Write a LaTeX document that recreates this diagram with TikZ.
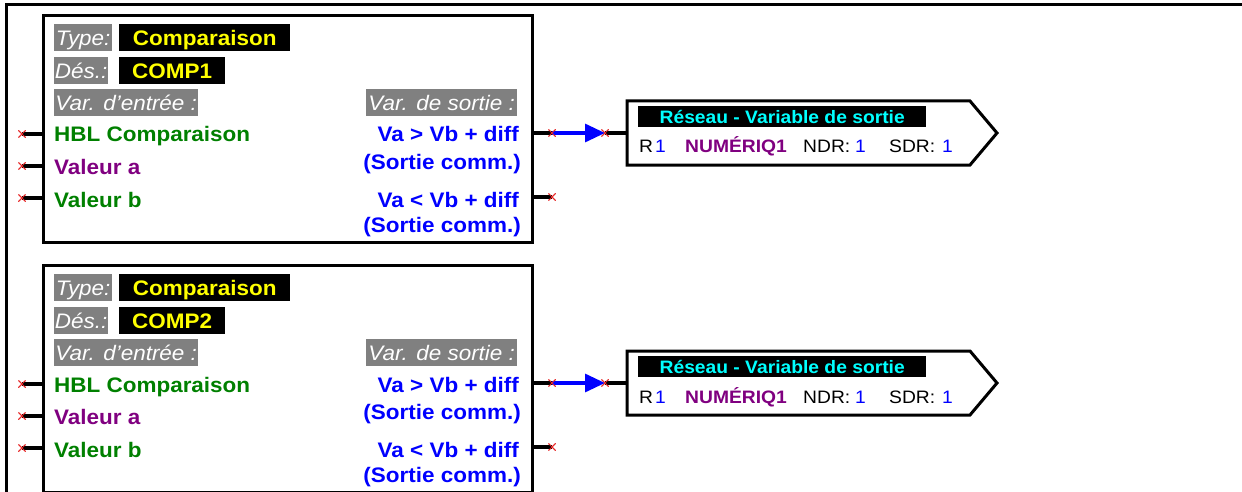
\documentclass[tikz,border=0pt]{standalone}
\usepackage{fontspec}
\setmainfont{Liberation Sans}[FakeStretch=1.07]
\usetikzlibrary{shapes.misc,arrows.meta}
\definecolor{dgreen}{RGB}{0,128,0}
\definecolor{dpurple}{RGB}{128,0,128}
\definecolor{lgray}{RGB}{128,128,128}
\definecolor{xred}{RGB}{230,40,40}
\definecolor{pcyan}{RGB}{0,255,255}
\definecolor{pyellow}{RGB}{255,255,0}
\definecolor{pblue}{RGB}{0,0,255}
\tikzset{
 frame/.style={line width=3pt},
 blk/.style={draw, line width=3pt, inner sep=0pt, minimum width=489pt, minimum height=227pt, anchor=north west},
 graylbl/.style={fill=lgray, text=white, font=\fontsize{21}{25}\selectfont\itshape, inner sep=0pt, text height=21pt, text depth=6pt, anchor=north west},
 blklbl/.style={fill=black, text=pyellow, font=\fontsize{21}{25}\selectfont\bfseries, inner sep=0pt, text height=21pt, text depth=6pt, anchor=north west},
 intxt/.style={font=\fontsize{21}{25}\selectfont\bfseries, inner sep=0pt, anchor=base west},
 outtxt/.style={font=\fontsize{21}{25}\selectfont\bfseries, text=pblue, inner sep=0pt, anchor=base east},
 stub/.style={line width=3.2pt},
 xm/.style={cross out, draw=xred, line width=1pt, minimum size=6pt, inner sep=0pt},
 link/.style={draw=pblue, line width=3.2pt, -{Triangle[length=20pt,width=18pt]}},
 netbox/.style={line width=3pt, line join=miter},
 netlbl/.style={fill=black, text=pcyan, font=\fontsize{18}{21}\selectfont\bfseries, inner sep=0pt, text height=17pt, text depth=4pt, minimum width=288pt, anchor=north west},
 nettxt/.style={font=\fontsize{18}{21}\selectfont, inner sep=0pt, anchor=base west},
}
\begin{document}
\begin{tikzpicture}[x=1pt,y=-1pt]
\useasboundingbox (0,0) rectangle (1242,492);
\draw[frame] (6,495) -- (6,5) -- (1245,5);
\foreach \i/\dy in {1/0,2/250}{
\begin{scope}[shift={(0,\dy)}]
 \node[blk] (blk\i) at (42,14) {};
 \node[graylbl, minimum width=58pt] (ty\i) at (54,24) {Type:};
 \node[blklbl, minimum width=171pt] (tyv\i) at (119,24) {Comparaison};
 \node[graylbl, minimum width=54pt] (de\i) at (54,57) {Dés.:};
 \node[blklbl, minimum width=106pt] (dev\i) at (119,57) {COMP\i};
 \node[graylbl, minimum width=144pt] (ve\i) at (54,89) {Var. d’entrée :};
 \node[graylbl, minimum width=151pt] (vs\i) at (366,89) {Var. de sortie :};
 \node[intxt, text=dgreen] (hbl\i) at (54,142) {HBL Comparaison};
 \node[intxt, text=dpurple] (va\i) at (54,174) {Valeur a};
 \node[intxt, text=dgreen] (vb\i) at (54,207) {Valeur b};
 \node[outtxt] (o1t\i) at (519,142) {Va > Vb + diff};
 \node[outtxt] (o1s\i) at (521,169) {(Sortie comm.)};
 \node[outtxt] (o2t\i) at (519,207) {Va < Vb + diff};
 \node[outtxt] (o2s\i) at (521,232) {(Sortie comm.)};
 % input stubs
 \node[xm] (xh\i) at (22,134) {};
 \node[xm] (xa\i) at (22,166) {};
 \node[xm] (xb\i) at (22,198) {};
 \draw[stub] (xh\i.center) -- (xh\i.center -| blk\i.west);
 \draw[stub] (xa\i.center) -- (xa\i.center -| blk\i.west);
 \draw[stub] (xb\i.center) -- (xb\i.center -| blk\i.west);
 % output stubs
 \node[xm] (xo\i) at (552,133) {};
 \node[xm] (xp\i) at (552,197) {};
 \draw[stub] (xo\i.center -| blk\i.east) -- (xo\i.center);
 \draw[stub] (xp\i.center -| blk\i.east) -- (xp\i.center);
 % network output box
 \coordinate (net\i) at (627,133);
 \draw[netbox] (627,101) -- (970,101) -- (997,133) -- (970,165) -- (627,165) -- cycle;
 \node[netlbl] (nl\i) at (638,106) {Réseau - Variable de sortie};
 \node[nettxt] (r\i) at (639,153) {R};
 \node[nettxt, text=pblue] (r1\i) at (655,153) {1};
 \node[nettxt, font=\fontsize{18}{21}\selectfont\bfseries, text=dpurple] (num\i) at (685,153) {NUMÉRIQ1};
 \node[nettxt] (ndr\i) at (803,153) {NDR:};
 \node[nettxt, text=pblue] (ndrv\i) at (855,153) {1};
 \node[nettxt] (sdr\i) at (889,153) {SDR:};
 \node[nettxt, text=pblue] (sdrv\i) at (942,153) {1};
 % link
 \node[xm] (xt\i) at (605,133) {};
 \draw[link] (xo\i.center) -- (xt\i.center);
 \draw[stub] (xt\i.center) -- (net\i);
 \node[xm] at (xo\i) {};
 \node[xm] at (xt\i) {};
 \node[xm] at (xh\i) {};
 \node[xm] at (xa\i) {};
 \node[xm] at (xb\i) {};
 \node[xm] at (xp\i) {};
\end{scope}
}
\end{tikzpicture}
\end{document}
